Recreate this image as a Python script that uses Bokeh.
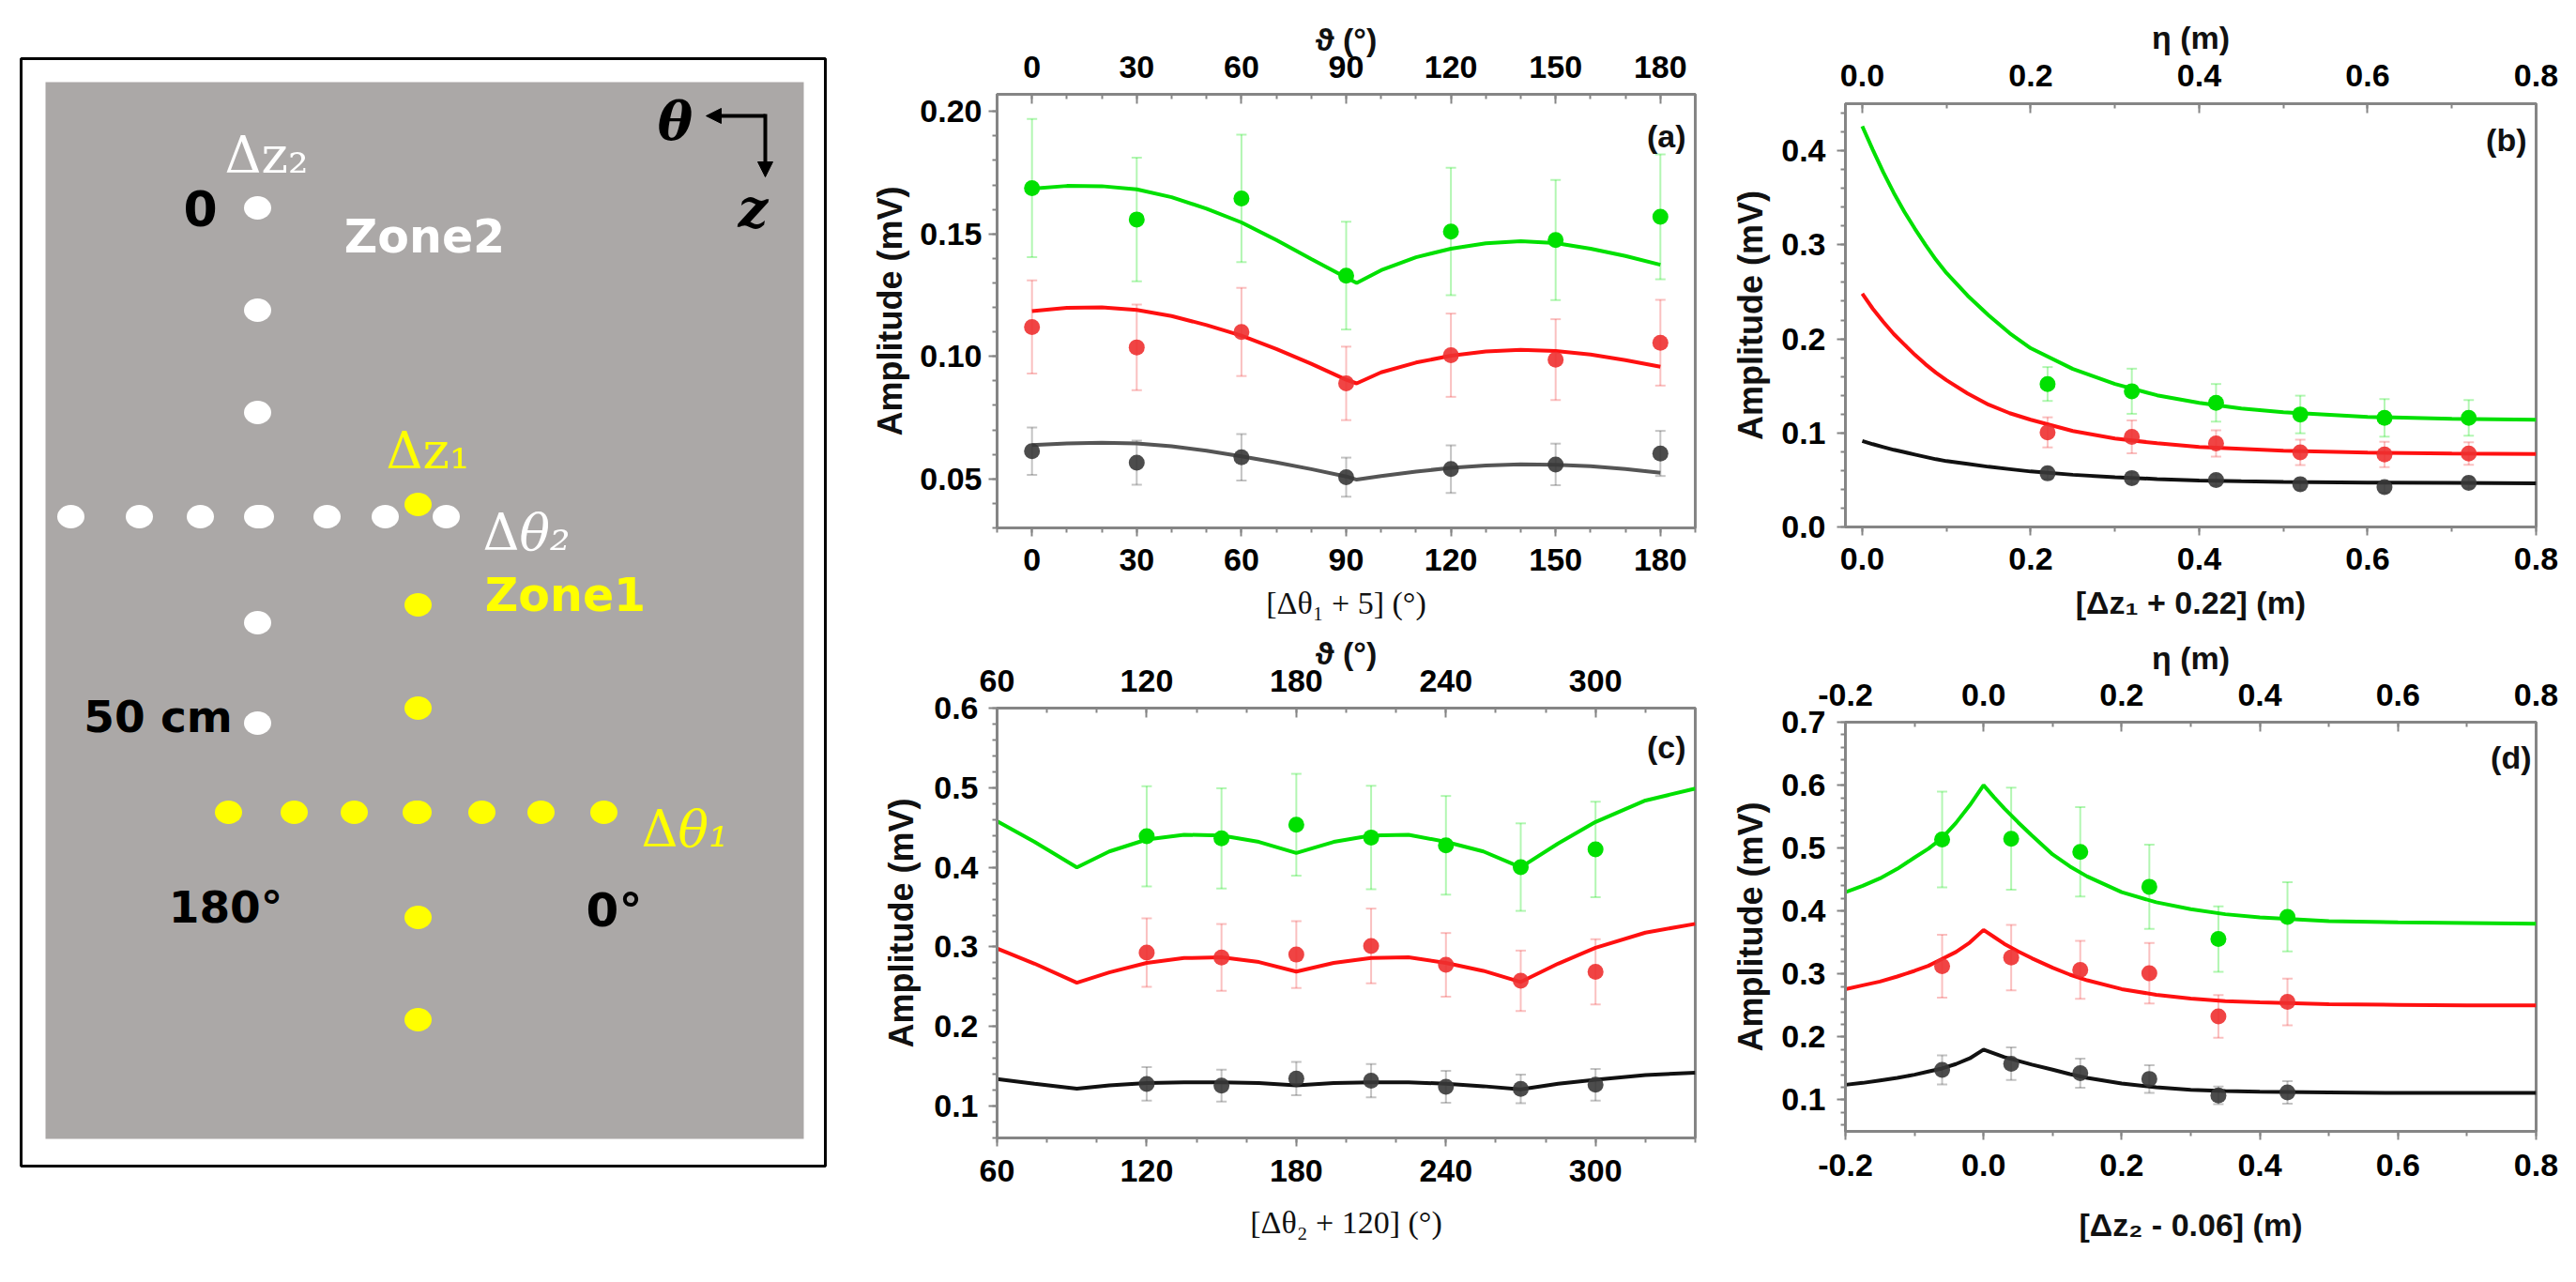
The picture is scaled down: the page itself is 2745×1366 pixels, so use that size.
from bokeh.plotting import figure
from bokeh.models import (Range1d, LinearAxis, SingleIntervalTicker, PrintfTickFormatter,
                          Label, Arrow, NormalHead)
from bokeh.layouts import row, column
from bokeh.embed import file_html
from bokeh.resources import INLINE
from bokeh.core.properties import value

# ---------------- data ----------------
# panel (a)
a_x = [0, 30, 60, 90, 120, 150, 180]
a_green = [0.1687, 0.1559, 0.1645, 0.1330, 0.1510, 0.1475, 0.1570]
a_green_err = [0.0282, 0.0252, 0.0260, 0.0220, 0.0260, 0.0245, 0.0255]
a_red = [0.1120, 0.1037, 0.1100, 0.0890, 0.1005, 0.0987, 0.1056]
a_red_err = [0.0190, 0.0175, 0.0180, 0.0150, 0.0170, 0.0165, 0.0175]
a_black = [0.0613, 0.0566, 0.0588, 0.0507, 0.0540, 0.0559, 0.0604]
a_black_err = [0.0097, 0.0090, 0.0095, 0.0080, 0.0097, 0.0085, 0.0092]
a_fit_x = [0, 10, 20, 30, 40, 50, 60, 70, 80, 90, 93, 100, 110, 120, 130, 140, 150, 160, 170, 180]
a_fit_green = [0.1685, 0.1696, 0.1695, 0.1682, 0.1650, 0.1603, 0.1547, 0.1475, 0.1398, 0.1322,
               0.1300, 0.1352, 0.1405, 0.1440, 0.1462, 0.1470, 0.1463, 0.1440, 0.1410, 0.1374]
a_fit_red = [0.1185, 0.1198, 0.1200, 0.1190, 0.1165, 0.1128, 0.1085, 0.1030, 0.0970, 0.0905,
             0.0890, 0.0935, 0.0975, 0.1003, 0.1020, 0.1027, 0.1022, 0.1008, 0.0985, 0.0958]
a_fit_black = [0.0638, 0.0645, 0.0648, 0.0645, 0.0633, 0.0615, 0.0592, 0.0567, 0.0540, 0.0510,
               0.0497, 0.0512, 0.0530, 0.0545, 0.0555, 0.0560, 0.0558, 0.0552, 0.0540, 0.0525]

# panel (b)
b_x = [0.22, 0.32, 0.42, 0.52, 0.62, 0.72]
b_green = [0.152, 0.1443, 0.132, 0.1196, 0.116, 0.116]
b_green_err = [0.018, 0.024, 0.020, 0.020, 0.020, 0.019]
b_red = [0.1006, 0.0958, 0.0888, 0.0793, 0.0771, 0.0780]
b_red_err = [0.016, 0.0175, 0.014, 0.0135, 0.0135, 0.012]
b_black = [0.0570, 0.0520, 0.0498, 0.0455, 0.0425, 0.0468]
b_black_err = [0.006, 0.006, 0.006, 0.006, 0.006, 0.006]
b_fit_x = [0, 0.0125, 0.025, 0.0375, 0.05, 0.0625, 0.075, 0.0875, 0.1, 0.125, 0.15, 0.175,
           0.2, 0.25, 0.3, 0.35, 0.4, 0.45, 0.5, 0.6, 0.7, 0.8]
b_fit_green = [0.426, 0.401, 0.377, 0.355, 0.335, 0.317, 0.300, 0.284, 0.270, 0.246, 0.225,
               0.206, 0.190, 0.168, 0.152, 0.140, 0.132, 0.126, 0.122, 0.117, 0.115, 0.114]
b_fit_red = [0.248, 0.232, 0.218, 0.205, 0.194, 0.183, 0.173, 0.164, 0.156, 0.142, 0.130,
             0.121, 0.114, 0.102, 0.094, 0.089, 0.085, 0.083, 0.081, 0.079, 0.078, 0.0775]
b_fit_black = [0.0915, 0.088, 0.085, 0.082, 0.0795, 0.077, 0.0745, 0.072, 0.070, 0.067, 0.064,
               0.0615, 0.059, 0.0555, 0.053, 0.051, 0.0495, 0.0487, 0.048, 0.0472, 0.0468, 0.0465]

# panel (c)
c_x = [120, 150, 180, 210, 240, 270, 300]
c_green = [0.439, 0.4364, 0.4535, 0.4375, 0.4277, 0.4003, 0.4225]
c_green_err = [0.063, 0.063, 0.064, 0.065, 0.062, 0.055, 0.060]
c_red = [0.293, 0.2868, 0.2904, 0.3012, 0.2775, 0.2574, 0.2687]
c_red_err = [0.043, 0.042, 0.042, 0.047, 0.040, 0.038, 0.041]
c_black = [0.1279, 0.1258, 0.1346, 0.1320, 0.1243, 0.1217, 0.1268]
c_black_err = [0.021, 0.020, 0.021, 0.021, 0.020, 0.018, 0.020]
c_fit_x = [60, 75, 92, 105, 120, 135, 150, 165, 180, 195, 210, 225, 240, 255, 270, 285, 300, 320, 340]
c_fit_green = [0.458, 0.432, 0.400, 0.420, 0.435, 0.441, 0.440, 0.432, 0.418, 0.432, 0.440,
               0.441, 0.432, 0.420, 0.400, 0.430, 0.457, 0.484, 0.499]
c_fit_red = [0.298, 0.279, 0.255, 0.268, 0.280, 0.286, 0.287, 0.281, 0.269, 0.280, 0.286,
             0.287, 0.280, 0.270, 0.256, 0.279, 0.299, 0.318, 0.329]
c_fit_black = [0.134, 0.128, 0.122, 0.126, 0.129, 0.130, 0.130, 0.129, 0.126, 0.129, 0.130,
               0.130, 0.128, 0.125, 0.121, 0.128, 0.133, 0.139, 0.142]

# panel (d)
d_x = [-0.06, 0.04, 0.14, 0.24, 0.34, 0.44]
d_green = [0.5137, 0.5150, 0.4941, 0.4386, 0.3556, 0.3908]
d_green_err = [0.076, 0.081, 0.071, 0.067, 0.052, 0.055]
d_red = [0.3124, 0.3261, 0.3065, 0.3013, 0.2327, 0.2556]
d_red_err = [0.050, 0.052, 0.046, 0.048, 0.034, 0.037]
d_black = [0.1477, 0.1575, 0.1425, 0.1333, 0.1072, 0.1118]
d_black_err = [0.023, 0.026, 0.023, 0.022, 0.014, 0.018]
d_fit_x = [-0.2, -0.175, -0.15, -0.125, -0.1, -0.08, -0.06, -0.04, -0.02, 0.0, 0.015, 0.03,
           0.05, 0.07, 0.1, 0.125, 0.15, 0.2, 0.25, 0.3, 0.35, 0.4, 0.5, 0.6, 0.7, 0.8]
d_fit_green = [0.430, 0.440, 0.452, 0.467, 0.485, 0.499, 0.516, 0.540, 0.568, 0.600, 0.581,
               0.563, 0.541, 0.520, 0.490, 0.471, 0.455, 0.430, 0.414, 0.403, 0.395, 0.390,
               0.384, 0.382, 0.381, 0.380]
d_fit_red = [0.276, 0.282, 0.288, 0.296, 0.305, 0.313, 0.324, 0.335, 0.350, 0.370, 0.359,
             0.348, 0.336, 0.325, 0.310, 0.299, 0.290, 0.276, 0.267, 0.261, 0.257, 0.255,
             0.252, 0.251, 0.250, 0.250]
d_fit_black = [0.124, 0.127, 0.131, 0.135, 0.140, 0.145, 0.150, 0.157, 0.166, 0.180, 0.174,
               0.168, 0.162, 0.156, 0.148, 0.141, 0.135, 0.126, 0.120, 0.116, 0.114, 0.113,
               0.112, 0.111, 0.111, 0.111]

# schematic (sensor layout, sketch coordinates)
white_col_x = [282, 282, 282, 282, 282, 282]
white_col_y = [229, 338, 447, 558, 671, 778]
white_row_x = [83, 156, 221, 285, 356, 418, 483]
white_row_y = [558, 558, 558, 558, 558, 558, 558]
yellow_col_x = [453, 453, 453, 453, 453, 453]
yellow_col_y = [545, 652, 762, 873, 985, 1094]
yellow_row_x = [251, 321, 385, 451, 521, 584, 651]
yellow_row_y = [873, 873, 873, 873, 873, 873, 873]

# ---------------- styles ----------------
SANS = "Liberation Sans"
SERIF = "Liberation Serif"
FRAME = "#858585"
GREEN = "#00E000"
RED = "#EE3030"
RED_LINE = "#FF1010"
DARK = "#383838"
TICK_SIZE = "34px"


def style_axis(ax, ticker, fmt, side, lab_standoff, title_standoff, title_font, title_style,
               title_size="34px"):
    ax.ticker = ticker
    ax.formatter = PrintfTickFormatter(format=fmt)
    ax.axis_line_color = FRAME
    ax.axis_line_width = 3
    ax.major_tick_line_color = FRAME
    ax.major_tick_line_width = 2
    ax.minor_tick_line_color = FRAME
    ax.minor_tick_line_width = 2
    if side == "above":
        ax.major_tick_in, ax.major_tick_out = 10, 0
        ax.minor_tick_in, ax.minor_tick_out = 5, 0
    else:
        ax.major_tick_in, ax.major_tick_out = 0, 9
        ax.minor_tick_in, ax.minor_tick_out = 0, 5
    ax.major_label_text_font = SANS
    ax.major_label_text_font_style = "bold"
    ax.major_label_text_font_size = TICK_SIZE
    ax.major_label_text_color = "black"
    ax.major_label_standoff = lab_standoff
    ax.axis_label_standoff = title_standoff
    ax.axis_label_text_font = title_font
    ax.axis_label_text_font_style = title_style
    ax.axis_label_text_font_size = title_size
    ax.axis_label_text_color = "#111111"


def make_panel(w, h, bl, br, bt, bb, xr, yr, xstep, xminor, ystep, yminor, xfmt, yfmt,
               xlabel, xfont, xstyle, toplabel, tag, tag_off, stand, series, fit_x, xs,
               black_line):
    p = figure(width=w, height=h, x_range=Range1d(*xr), y_range=Range1d(*yr),
               output_backend="svg", toolbar_location=None,
               min_border_left=bl, min_border_right=br, min_border_top=bt, min_border_bottom=bb,
               x_axis_label=xlabel, y_axis_label="Amplitude (mV)")
    p.xgrid.visible = False
    p.ygrid.visible = False
    p.outline_line_color = FRAME
    p.outline_line_width = 3
    p.background_fill_color = "white"
    p.border_fill_color = "white"
    style_axis(p.xaxis[0], SingleIntervalTicker(interval=xstep, num_minor_ticks=xminor), xfmt,
               "below", stand["xb"][0], stand["xb"][1], xfont, xstyle)
    style_axis(p.yaxis[0], SingleIntervalTicker(interval=ystep, num_minor_ticks=yminor), yfmt,
               "left", stand["y"][0], stand["y"][1], SANS, "bold", "36px")
    top = LinearAxis(axis_label=toplabel)
    style_axis(top, SingleIntervalTicker(interval=xstep, num_minor_ticks=xminor), xfmt,
               "above", stand["xt"][0], stand["xt"][1], SANS, "bold")
    p.add_layout(top, "above")

    colors = [(GREEN, GREEN, 1.0), (RED, RED_LINE, 0.9), (DARK, black_line, 0.9)]
    for (yv, ev, fv), (mc, lc, ma) in zip(series, colors):
        lo = [y - e for y, e in zip(yv, ev)]
        hi = [y + e for y, e in zip(yv, ev)]
        p.segment(x0=xs, y0=lo, x1=xs, y1=hi, line_color=mc, line_alpha=0.3, line_width=2)
        p.scatter(xs, lo, marker="dash", size=11, line_color=mc, line_alpha=0.3, line_width=2)
        p.scatter(xs, hi, marker="dash", size=11, line_color=mc, line_alpha=0.3, line_width=2)
        p.line(fit_x, fv, line_color=lc, line_width=4)
        p.scatter(xs, yv, size=17, fill_color=mc, fill_alpha=ma, line_color=None)

    p.add_layout(Label(x=xr[1], y=yr[1], x_offset=tag_off[0], y_offset=tag_off[1], text=tag,
                       text_align="right", text_baseline="top", text_font=SANS,
                       text_font_style="bold", text_font_size="34px", text_color="#111111"))
    return p


pa = make_panel(945, 663, 165, 36, 100, 100, (-10, 190), (0.03, 0.207), 30, 3, 0.05, 5,
                "%d", "%.2f", "[Δθ\u2081 + 5] (\u00b0)", SERIF, "normal", "\u03d1 (\u00b0)",
                "(a)", (-10, -25),
                {"xb": (13, 13), "y": (7, 8), "xt": (18, -4)},
                [(a_green, a_green_err, a_fit_green), (a_red, a_red_err, a_fit_red),
                 (a_black, a_black_err, a_fit_black)], a_fit_x, a_x, "#555555")

pb = make_panel(887, 663, 122, 27, 110, 100, (-0.02, 0.8), (0.0, 0.45), 0.2, 2, 0.1, 5,
                "%.1f", "%.1f", "[Δz\u2081 + 0.22] (m)", SANS, "bold", "\u03b7 (m)",
                "(b)", (-10, -19),
                {"xb": (13, 13), "y": (12, 9), "xt": (19, 7)},
                [(b_green, b_green_err, b_fit_green), (b_red, b_red_err, b_fit_red),
                 (b_black, b_black_err, b_fit_black)], b_fit_x, b_x, "#111111")

pc = make_panel(945, 687, 152, 36, 91, 138, (60, 340), (0.06, 0.6001), 60, 3, 0.1, 5,
                "%d", "%.1f", "[Δθ\u2082 + 120] (\u00b0)", SERIF, "normal", "\u03d1 (\u00b0)",
                "(c)", (-10, -22),
                {"xb": (14, 22), "y": (11, 11), "xt": (18, -4)},
                [(c_green, c_green_err, c_fit_green), (c_red, c_red_err, c_fit_red),
                 (c_black, c_black_err, c_fit_black)], c_fit_x, c_x, "#111111")

pd_ = make_panel(887, 687, 122, 27, 106, 145, (-0.2, 0.8), (0.05, 0.7001), 0.2, 2, 0.1, 5,
                 "%.1f", "%.1f", "[Δz\u2082 - 0.06] (m)", SANS, "bold", "\u03b7 (m)",
                 "(d)", (-5, -18),
                 {"xb": (15, 30), "y": (12, 9), "xt": (18, 6)},
                 [(d_green, d_green_err, d_fit_green), (d_red, d_red_err, d_fit_red),
                  (d_black, d_black_err, d_fit_black)], d_fit_x, d_x, "#111111")

# ---------------- schematic ----------------
ps = figure(width=897, height=1350, x_range=Range1d(8, 905), y_range=Range1d(1358, 8),
            output_backend="svg", toolbar_location=None, min_border=0,
            x_axis_location=None, y_axis_location=None)
ps.xgrid.visible = False
ps.ygrid.visible = False
ps.outline_line_color = None
ps.background_fill_color = "white"
ps.border_fill_color = "white"

box_lrtb = [30, 887, 70, 1250]
gray_lrtb = [56, 864, 95, 1221]
ps.quad(left=[box_lrtb[0]], right=[box_lrtb[1]], top=[box_lrtb[2]], bottom=[box_lrtb[3]],
        fill_color="white", line_color="black", line_width=3)
ps.quad(left=[gray_lrtb[0]], right=[gray_lrtb[1]], top=[gray_lrtb[2]], bottom=[gray_lrtb[3]],
        fill_color="#ABA8A7", line_color=None)

ps.ellipse(white_row_x, white_row_y, width=29, height=25, fill_color="white", line_color=None)
ps.ellipse(white_col_x, white_col_y, width=29, height=25, fill_color="white", line_color=None)
ps.ellipse(yellow_row_x, yellow_row_y, width=29, height=25, fill_color="#FFFF00", line_color=None)
ps.ellipse(yellow_col_x, yellow_col_y, width=29, height=25, fill_color="#FFFF00", line_color=None)

bold_txt = ["0", "50 cm", "180\u00b0", "0\u00b0"]
bold_x = [221, 176, 248, 662]
bold_y = [229, 771, 974, 977]
bold_size = ["52px", "47px", "47px", "50px"]
ps.text(bold_x, bold_y, text=bold_txt, text_align="center", text_baseline="middle",
        text_font=value("DejaVu Sans"), text_font_style="bold", text_font_size=bold_size,
        text_color="black")

zone_txt = ["Zone2", "Zone1"]
zone_x = [460, 610]
zone_y = [260, 642]
zone_col = ["white", "#FFFF00"]
ps.text(zone_x, zone_y, text=zone_txt, text_align="center", text_baseline="middle",
        text_font=value("DejaVu Sans"), text_font_style="bold", text_font_size="49px",
        text_color=zone_col)

# Δ (upright) + variable with subscript, split at a common anchor
greek_var = ["z\u2082", "z\u2081", "θ\u2082", "θ\u2081"]
greek_style = ["normal", "normal", "italic", "italic"]
greek_x = [286, 458, 561, 730]
greek_base = [173, 488, 575, 891]
greek_col = ["white", "#FFFF00", "white", "#FFFF00"]
ps.text(greek_x, greek_base, text=["Δ"] * 4, text_align="right", text_baseline="alphabetic",
        text_font=value("DejaVu Serif"), text_font_style="normal", text_font_size="54px",
        text_color=greek_col)
ps.text(greek_x, greek_base, text=greek_var, text_align="left", text_baseline="alphabetic",
        text_font=value("DejaVu Serif"), text_font_style=greek_style, text_font_size="54px",
        text_color=greek_col)

axis_txt = ["θ", "z"]
axis_x = [727, 810]
axis_y = [136, 229]
ps.text(axis_x, axis_y, text=axis_txt, text_align="center", text_baseline="middle",
        text_font=value("DejaVu Serif"), text_font_style="bold italic", text_font_size="56px",
        text_color="black")

arrow_start = [(823, 131), (823, 129)]
arrow_end = [(760, 131), (823, 196)]
for (xs0, ys0), (xe, ye) in zip(arrow_start, arrow_end):
    ps.add_layout(Arrow(x_start=xs0, y_start=ys0, x_end=xe, y_end=ye, line_width=4,
                        line_color="black",
                        end=NormalHead(size=16, fill_color="black", line_color="black")))

layout = row(ps, column(pa, pc), column(pb, pd_))
open("out.html", "w").write(file_html(layout, INLINE))
